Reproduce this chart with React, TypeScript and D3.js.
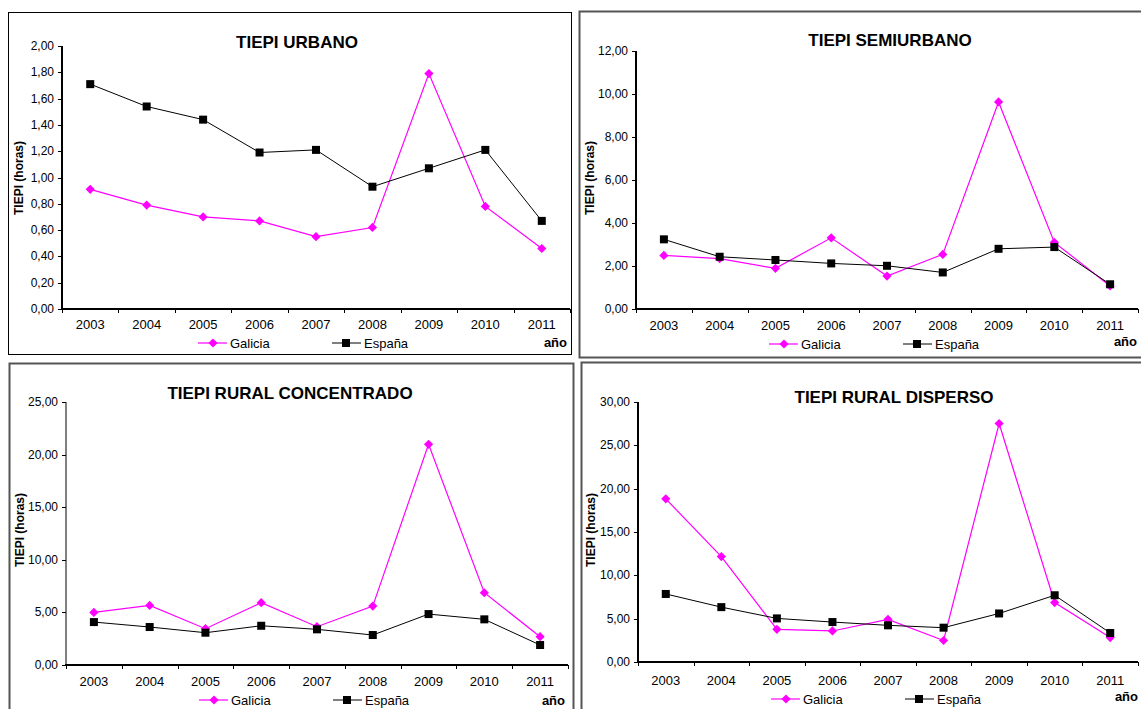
import React from "react";
import * as d3 from "d3";

const years = ["2003", "2004", "2005", "2006", "2007", "2008", "2009", "2010", "2011"];

const urbanoGalicia = [0.91, 0.79, 0.70, 0.67, 0.55, 0.62, 1.79, 0.78, 0.46];
const urbanoEspana = [1.71, 1.54, 1.44, 1.19, 1.21, 0.93, 1.07, 1.21, 0.67];

const semiGalicia = [2.49, 2.34, 1.89, 3.31, 1.53, 2.54, 9.63, 3.10, 1.07];
const semiEspana = [3.24, 2.43, 2.28, 2.12, 2.01, 1.70, 2.80, 2.88, 1.15];

const concGalicia = [5.0, 5.66, 3.45, 5.92, 3.64, 5.6, 20.98, 6.87, 2.69];
const concEspana = [4.08, 3.61, 3.07, 3.73, 3.39, 2.85, 4.84, 4.34, 1.90];

const dispGalicia = [18.83, 12.16, 3.77, 3.58, 4.92, 2.48, 27.52, 6.86, 2.82];
const dispEspana = [7.85, 6.33, 5.03, 4.61, 4.23, 3.96, 5.60, 7.70, 3.35];

const titles = ["TIEPI URBANO", "TIEPI SEMIURBANO", "TIEPI RURAL CONCENTRADO", "TIEPI RURAL DISPERSO"];
const yMaxes = [2, 12, 25, 30];
const ySteps = [0.2, 2, 5, 5];
const seriesNames = ["Galicia", "España"];
const yLabel = "TIEPI (horas)";
const xLabel = "año";

const locale = d3.formatLocale({ decimal: ",", thousands: ".", grouping: [3], currency: ["", "€"] });
const fmt = locale.format(".2f");

const FONT = "Arial, 'Liberation Sans', sans-serif";
const MAGENTA = "#FF00FF";

type PanelCfg = {
  box: { x: number; y: number; w: number; h: number };
  border: string;
  borderW: number;
  x0: number; x1: number; yTop: number; yBot: number;
  yAxisW: number;
  titleX: number; titleY: number;
  yLabX: number; yLabY: number;
  tickY: number;
  legY: number; legX: number;
  anoX: number; anoY: number;
  title: string; yMax: number; step: number;
  gal: number[]; esp: number[];
};

const layouts = [
  { box: { x: 8.5, y: 12.5, w: 563, h: 342 }, border: "#000", borderW: 1, x0: 62, x1: 570, yTop: 46, yBot: 309, yAxisW: 2, titleX: 297, titleY: 48, yLabX: 23, yLabY: 178, tickY: 329, legY: 343, legX: 136, anoX: 567, anoY: 347 },
  { box: { x: 579.5, y: 11.5, w: 600, h: 346 }, border: "#555", borderW: 2, x0: 636, x1: 1138, yTop: 51, yBot: 309, yAxisW: 2, titleX: 890, titleY: 46, yLabX: 594, yLabY: 178, tickY: 330, legY: 344, legX: 133, anoX: 1137, anoY: 346 },
  { box: { x: 9.5, y: 363.5, w: 564, h: 400 }, border: "#555", borderW: 2, x0: 66, x1: 568, yTop: 402, yBot: 665, yAxisW: 1, titleX: 290, titleY: 399, yLabX: 24, yLabY: 530, tickY: 686, legY: 700, legX: 133, anoX: 565, anoY: 705 },
  { box: { x: 581.5, y: 362.5, w: 600, h: 400 }, border: "#555", borderW: 2, x0: 638, x1: 1138, yTop: 402, yBot: 662, yAxisW: 2, titleX: 894, titleY: 403, yLabX: 595, yLabY: 530, tickY: 685, legY: 699, legX: 133, anoX: 1138, anoY: 701 },
];

const galData = [urbanoGalicia, semiGalicia, concGalicia, dispGalicia];
const espData = [urbanoEspana, semiEspana, concEspana, dispEspana];

function Diamond({ x, y, r = 4.6 }: { x: number; y: number; r?: number }) {
  return <path d={`M${x},${y - r}L${x + r},${y}L${x},${y + r}L${x - r},${y}Z`} fill={MAGENTA} />;
}
function Square({ x, y, s = 8 }: { x: number; y: number; s?: number }) {
  return <rect x={x - s / 2} y={y - s / 2} width={s} height={s} fill="#000" />;
}

function Panel({ c }: { c: PanelCfg }) {
  const xBand = d3.scaleBand<string>().domain(years).range([c.x0, c.x1]);
  const y = d3.scaleLinear().domain([0, c.yMax]).range([c.yBot, c.yTop]);
  const cx = (d: string) => (xBand(d) as number) + xBand.bandwidth() / 2;
  const line = d3.line<number>().x((_, i) => cx(years[i])).y((v) => y(v));
  const yTicks = d3.range(0, c.yMax + c.step / 2, c.step);
  const bounds = years.map((d) => xBand(d) as number).concat([c.x1]);
  const lx = c.x0 + c.legX;
  return (
    <g>
      <rect x={c.box.x} y={c.box.y} width={c.box.w} height={c.box.h} fill="#fff" stroke={c.border} strokeWidth={c.borderW} />
      <text x={c.titleX} y={c.titleY} textAnchor="middle" fontFamily={FONT} fontWeight="bold" fontSize={17} fill="#000">{c.title}</text>
      <text transform={`translate(${c.yLabX},${c.yLabY}) rotate(-90)`} textAnchor="middle" fontFamily={FONT} fontWeight="bold" fontSize={12} fill="#000">{yLabel}</text>
      {yTicks.map((t) => (
        <g key={t}>
          <line x1={c.x0 - 4} x2={c.x0} y1={Math.round(y(t)) + 0.5} y2={Math.round(y(t)) + 0.5} stroke="#000" />
          <text x={c.x0 - 8} y={y(t) + 4} textAnchor="end" fontFamily={FONT} fontSize={12} fill="#000">{fmt(t)}</text>
        </g>
      ))}
      {bounds.map((b, i) => (
        <line key={i} x1={Math.round(b) + 0.5} x2={Math.round(b) + 0.5} y1={c.yBot} y2={c.yBot + 4} stroke="#000" />
      ))}
      {years.map((d) => (
        <text key={d} x={cx(d)} y={c.tickY} textAnchor="middle" fontFamily={FONT} fontSize={13} fill="#000">{d}</text>
      ))}
      <line x1={c.x0} x2={c.x0} y1={c.yTop} y2={c.yBot} stroke="#000" strokeWidth={c.yAxisW} />
      <line x1={c.x0 - 1} x2={c.x1} y1={c.yBot} y2={c.yBot} stroke="#000" strokeWidth={2} />
      <path d={line(c.gal) as string} fill="none" stroke={MAGENTA} strokeWidth={1.2} />
      {c.gal.map((v, i) => <Diamond key={i} x={cx(years[i])} y={y(v)} />)}
      <path d={line(c.esp) as string} fill="none" stroke="#000" strokeWidth={1} />
      {c.esp.map((v, i) => <Square key={i} x={cx(years[i])} y={y(v)} />)}
      <line x1={lx} x2={lx + 29} y1={c.legY} y2={c.legY} stroke={MAGENTA} strokeWidth={1.2} />
      <Diamond x={lx + 15} y={c.legY} />
      <text x={lx + 32} y={c.legY + 5} fontFamily={FONT} fontSize={13} fill="#000">{seriesNames[0]}</text>
      <line x1={lx + 134} x2={lx + 163} y1={c.legY} y2={c.legY} stroke="#000" strokeWidth={1} />
      <Square x={lx + 148} y={c.legY} />
      <text x={lx + 166} y={c.legY + 5} fontFamily={FONT} fontSize={13} fill="#000">{seriesNames[1]}</text>
      <text x={c.anoX} y={c.anoY} textAnchor="end" fontFamily={FONT} fontWeight="bold" fontSize={13} fill="#000">{xLabel}</text>
    </g>
  );
}

export default function App() {
  const panels: PanelCfg[] = layouts.map((l, i) => ({
    ...l,
    title: titles[i],
    yMax: yMaxes[i],
    step: ySteps[i],
    gal: galData[i],
    esp: espData[i],
  }));
  return (
    <svg width={1141} height={709} style={{ position: "absolute", left: 0, top: 0, background: "#fff" }}>
      <rect width={1141} height={709} fill="#fff" />
      {panels.map((p, i) => <Panel key={i} c={p} />)}
    </svg>
  );
}
